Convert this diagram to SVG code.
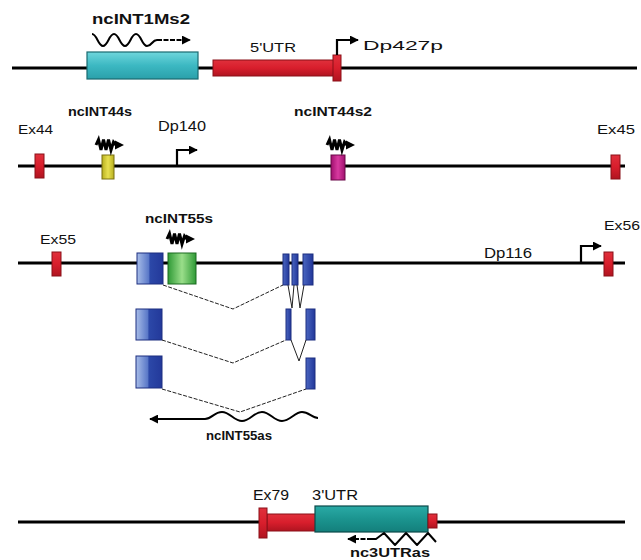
<svg xmlns="http://www.w3.org/2000/svg" width="641" height="560" viewBox="0 0 641 560">
<defs>
<linearGradient id="gCyan" x1="0" y1="0" x2="0" y2="1"><stop offset="0" stop-color="#6fd6dc"/><stop offset="0.5" stop-color="#3cb8c2"/><stop offset="1" stop-color="#2aa0aa"/></linearGradient>
<linearGradient id="gTeal" x1="0" y1="0" x2="0" y2="1"><stop offset="0" stop-color="#2aaaa6"/><stop offset="0.5" stop-color="#1b948f"/><stop offset="1" stop-color="#137f7b"/></linearGradient>
<linearGradient id="gRed" x1="0" y1="0" x2="0" y2="1"><stop offset="0" stop-color="#e0303c"/><stop offset="0.5" stop-color="#d81e2c"/><stop offset="1" stop-color="#b01420"/></linearGradient>
<linearGradient id="gBlue" x1="0" y1="0" x2="1" y2="0"><stop offset="0" stop-color="#a8bde8"/><stop offset="0.45" stop-color="#5a78c8"/><stop offset="0.5" stop-color="#2c48a8"/><stop offset="1" stop-color="#23399a"/></linearGradient>
<linearGradient id="gBar" x1="0" y1="0" x2="1" y2="0"><stop offset="0" stop-color="#4a66c0"/><stop offset="1" stop-color="#22379a"/></linearGradient>
<linearGradient id="gGreen" x1="0" y1="0" x2="1" y2="0"><stop offset="0" stop-color="#2f9a36"/><stop offset="0.5" stop-color="#9ade8a"/><stop offset="1" stop-color="#2f9a36"/></linearGradient>
<linearGradient id="gYellow" x1="0" y1="0" x2="1" y2="0"><stop offset="0" stop-color="#b8b020"/><stop offset="0.5" stop-color="#e8e050"/><stop offset="1" stop-color="#b8b020"/></linearGradient>
<linearGradient id="gMag" x1="0" y1="0" x2="1" y2="0"><stop offset="0" stop-color="#a0106e"/><stop offset="0.5" stop-color="#d83aa0"/><stop offset="1" stop-color="#a0106e"/></linearGradient>
<g id="zig">
<path d="M0,6 L2.5,0.5 L5,11 L7.5,0.5 L10,11 L12.5,0.5 L15,11 L17.5,3 L20,6" fill="none" stroke="#000" stroke-width="3" stroke-linejoin="miter"/>
<polygon points="19,1.5 28,6 19,10.5" fill="#000"/>
</g>
<marker id="ah" viewBox="0 0 10 10" refX="9" refY="5" markerWidth="9" markerHeight="9" markerUnits="userSpaceOnUse" orient="auto"><path d="M0,0 L10,5 L0,10 z" fill="#000"/></marker>
</defs>
<style>
.dna{stroke:#000;stroke-width:3;fill:none}
.lbl{font-family:"Liberation Sans",Arial,sans-serif;font-size:13px;fill:#111}
.b{font-weight:bold}
.prom{fill:none;stroke:#000;stroke-width:2.2}
.splice{fill:none;stroke:#222;stroke-width:1;stroke-dasharray:4,1.5}
.vee{fill:none;stroke:#222;stroke-width:1}
.exon{fill:url(#gRed);stroke:#8a1018;stroke-width:1}
.blue{fill:url(#gBlue);stroke:#1c2e80;stroke-width:1}
.bar{fill:url(#gBar);stroke:#1c2e80;stroke-width:1}
</style>
<rect width="641" height="560" fill="#fff"/>

<!-- Row 1 -->
<g id="row1">
<line class="dna" x1="12" y1="68" x2="637" y2="68"/>
<g id="ncINT1Ms2">
<rect x="87" y="52" width="111" height="27" fill="url(#gCyan)" stroke="#1a6a70" stroke-width="1.2"/>
<path d="M92,34 C97,34 98,46 103,46 S109,34 114,34 S120,46 125,46 S131,34 136,34 S142,46 147,46 S152,40 157,40" fill="none" stroke="#000" stroke-width="2"/>
<line x1="157" y1="40" x2="190" y2="40" stroke="#000" stroke-width="2" stroke-dasharray="5,1.5" marker-end="url(#ah)"/>
<text class="lbl b" x="92" y="24" textLength="98" lengthAdjust="spacingAndGlyphs" style="font-size:15px">ncINT1Ms2</text>
</g>
<g id="utr5">
<rect x="213" y="60" width="121" height="16" fill="url(#gRed)" stroke="#8a1018" stroke-width="1"/>
<rect x="333" y="55" width="8" height="26" class="exon"/>
<text class="lbl" x="250" y="52" textLength="46" lengthAdjust="spacingAndGlyphs">5'UTR</text>
</g>
<g id="Dp427p">
<path class="prom" d="M337,55 V40 H358" marker-end="url(#ah)"/>
<text class="lbl" x="363" y="50" textLength="80" lengthAdjust="spacingAndGlyphs">Dp427p</text>
</g>
</g>

<!-- Row 2 -->
<g id="row2">
<line class="dna" x1="18" y1="166" x2="625" y2="166"/>
<g id="Ex44">
<rect x="35" y="154" width="9" height="24" class="exon"/>
<text class="lbl" x="18" y="134" textLength="35" lengthAdjust="spacingAndGlyphs">Ex44</text>
</g>
<g id="ncINT44s">
<rect x="102" y="155" width="12" height="24" fill="url(#gYellow)" stroke="#7a7010" stroke-width="1"/>
<use href="#zig" transform="translate(96,139)"/>
<text class="lbl b" x="68" y="116" textLength="64" lengthAdjust="spacingAndGlyphs">ncINT44s</text>
</g>
<g id="Dp140">
<path class="prom" d="M177,166 V150 H197" marker-end="url(#ah)"/>
<text class="lbl" x="158" y="131" textLength="48" lengthAdjust="spacingAndGlyphs" style="font-size:14px">Dp140</text>
</g>
<g id="ncINT44s2">
<rect x="331" y="155" width="14" height="25" fill="url(#gMag)" stroke="#6a0848" stroke-width="1"/>
<use href="#zig" transform="translate(327,139)"/>
<text class="lbl b" x="294" y="116" textLength="78" lengthAdjust="spacingAndGlyphs">ncINT44s2</text>
</g>
<g id="Ex45">
<rect x="611" y="155" width="9" height="24" class="exon"/>
<text class="lbl" x="597" y="134" textLength="38" lengthAdjust="spacingAndGlyphs">Ex45</text>
</g>
</g>

<!-- Row 3 -->
<g id="row3">
<line class="dna" x1="18" y1="263" x2="625" y2="263"/>
<g id="Ex55">
<rect x="52" y="252" width="9" height="24" class="exon"/>
<text class="lbl" x="40" y="244" textLength="36" lengthAdjust="spacingAndGlyphs">Ex55</text>
</g>
<g id="ex55a">
<rect x="137" y="253" width="26" height="31" class="blue"/>
</g>
<g id="ncINT55s">
<rect x="168" y="253" width="28" height="31" fill="url(#gGreen)" stroke="#1a6a20" stroke-width="1"/>
<use href="#zig" transform="translate(167,233)"/>
<text class="lbl b" x="145" y="223" textLength="68" lengthAdjust="spacingAndGlyphs">ncINT55s</text>
</g>
<g id="exbars">
<rect x="283" y="254" width="6" height="31" class="bar"/>
<rect x="292" y="254" width="6" height="31" class="bar"/>
<rect x="303" y="254" width="10" height="31" class="bar"/>
</g>
<g id="Dp116">
<path class="prom" d="M581,263 V246 H601" marker-end="url(#ah)"/>
<text class="lbl" x="484" y="258" textLength="48" lengthAdjust="spacingAndGlyphs" style="font-size:14px">Dp116</text>
</g>
<g id="Ex56">
<rect x="604" y="252" width="9" height="24" class="exon"/>
<text class="lbl" x="604" y="230" textLength="36" lengthAdjust="spacingAndGlyphs">Ex56</text>
</g>
<g id="transcript2">
<rect x="136" y="309" width="26" height="31" class="blue"/>
<rect x="286" y="309" width="5" height="31" class="bar"/>
<rect x="306" y="309" width="9" height="31" class="bar"/>
</g>
<g id="transcript3">
<rect x="136" y="356" width="26" height="32" class="blue"/>
<rect x="306" y="358" width="9" height="31" class="bar"/>
</g>
<g id="ncINT55as">
<path d="M318,418 C312,418 309,412 302,412 S290,421 282,421 S270,412 262,412 S250,421 242,421 S230,412 222,412 S212,419 205,419" fill="none" stroke="#000" stroke-width="2"/>
<line x1="205" y1="419" x2="150" y2="419" stroke="#000" stroke-width="2" marker-end="url(#ah)"/>
<text class="lbl b" x="206" y="440" textLength="66" lengthAdjust="spacingAndGlyphs" style="font-size:12px">ncINT55as</text>
</g>
</g>

<!-- Row 4 -->
<g id="row4">
<line class="dna" x1="18" y1="522" x2="625" y2="522"/>
<g id="Ex79">
<rect x="267" y="514" width="49" height="17" fill="url(#gRed)" stroke="#8a1018" stroke-width="1"/>
<rect x="259" y="508" width="8" height="30" class="exon"/>
<text class="lbl" x="253" y="500" textLength="36" lengthAdjust="spacingAndGlyphs" style="font-size:14px">Ex79</text>
</g>
<g id="utr3">
<rect x="315" y="506" width="113" height="26" fill="url(#gTeal)" stroke="#0a4a4a" stroke-width="1.2"/>
<rect x="428" y="514" width="9" height="14" fill="url(#gRed)" stroke="#8a1018" stroke-width="1"/>
<text class="lbl" x="312" y="500" textLength="46" lengthAdjust="spacingAndGlyphs" style="font-size:14px">3'UTR</text>
</g>
<g id="nc3UTRas">
<path d="M436,542 L428,533 L417,545 L406,533 L395,545 L384,533 L376,539 L372,539" fill="none" stroke="#000" stroke-width="2" stroke-linejoin="round"/>
<line x1="372" y1="539" x2="348" y2="539" stroke="#000" stroke-width="2" stroke-dasharray="5,1.5" marker-end="url(#ah)"/>
<text class="lbl b" x="350" y="557" textLength="80" lengthAdjust="spacingAndGlyphs" style="font-size:12px">nc3UTRas</text>
</g>
</g>

<!-- Connectors: splice junctions -->
<g id="connectors">
<polyline class="splice" points="163,285 233,309 283,285"/>
<polyline class="vee" points="288,285 292,308 294,285"/>
<polyline class="vee" points="297,285 300,308 304,285"/>
<polyline class="splice" points="162,340 233,363 286,340"/>
<polyline class="vee" points="291,340 299,361 306,340"/>
<polyline class="splice" points="162,389 240,412 306,389"/>
</g>
</svg>
